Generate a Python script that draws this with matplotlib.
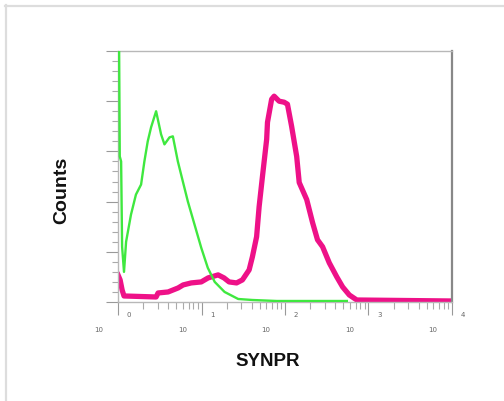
import matplotlib
matplotlib.use("Agg")
import matplotlib.pyplot as plt
from matplotlib.lines import Line2D
from matplotlib.ticker import LogLocator, MultipleLocator, NullFormatter

# ---- data ----
green_x = [1.00, 1.03, 1.05, 1.09, 1.12, 1.18, 1.25, 1.43, 1.64, 1.89, 2.07, 2.27,
           2.49, 2.86, 3.28, 3.60, 4.14, 4.54, 5.21, 5.98, 6.87, 8.26, 9.93, 11.9,
           14.4, 18.9, 27.5, 40.7, 80.0, 550.0]
green_y = [260, 260, 145, 140, 55, 30, 60, 87, 107, 117, 140, 160,
           174, 190, 167, 157, 164, 165, 140, 120, 100, 77, 54, 34,
           20, 10, 3, 2, 1, 1]

pink_x = [1.00, 1.06, 1.12, 1.18, 2.86, 3.02, 3.98, 5.25, 6.03, 7.53, 9.93, 12.0,
          15.8, 18.6, 21.4, 26.3, 30.9, 37.2, 40.7, 45.7, 49.0, 53.7, 60.3, 61.7,
          69.2, 74.1, 85.1, 97.7, 107, 120, 138, 148, 182, 214, 245, 282, 339,
          417, 490, 589, 724, 10000]
pink_y = [27, 22, 12, 6, 5, 9, 10, 14, 17, 19, 20, 24,
          27, 24, 20, 19, 22, 32, 45, 65, 95, 125, 162, 179,
          202, 205, 200, 199, 197, 175, 145, 119, 102, 79, 62, 55, 39,
          25, 15, 7, 2, 1]

decades = [0, 1, 2, 3, 4]
x_label = "SYNPR"
y_label = "Counts"

# ---- figure ----
fig = plt.figure(figsize=(5.04, 4.01), dpi=100)
fig.patch.set_facecolor("white")

# light frame lines (left and top)
fig.add_artist(Line2D([6 / 504, 6 / 504], [0, 1 - 5 / 401], color="#dddddd", lw=1.6,
                      transform=fig.transFigure))
fig.add_artist(Line2D([5 / 504, 1], [1 - 6 / 401, 1 - 6 / 401], color="#dddddd", lw=1.6,
                      transform=fig.transFigure))

ax = fig.add_axes([118 / 504, 99 / 401, (452 - 118) / 504, (302 - 51) / 401])
ax.plot(pink_x, pink_y, color="#ee1188", lw=3.8, solid_joinstyle="round", zorder=2)
ax.plot(green_x, green_y, color="#3fe83f", lw=1.7, zorder=3)

ax.set_xscale("log")
ax.set_xlim(1, 10000)
ax.set_ylim(0, 250)

for side in ["left", "top", "bottom"]:
    ax.spines[side].set_color("#b8b8b8")
    ax.spines[side].set_linewidth(1.0)
ax.spines["right"].set_color("#888888")
ax.spines["right"].set_linewidth(1.6)

ax.xaxis.set_major_locator(LogLocator(base=10, numticks=10))
ax.xaxis.set_minor_locator(LogLocator(base=10, subs=range(2, 10), numticks=20))
ax.xaxis.set_major_formatter(NullFormatter())
ax.xaxis.set_minor_formatter(NullFormatter())
ax.yaxis.set_major_locator(MultipleLocator(50))
ax.yaxis.set_minor_locator(MultipleLocator(10))
ax.yaxis.set_major_formatter(NullFormatter())

ax.tick_params(axis="x", which="major", direction="out", length=9, width=0.8,
               color="#999999")
ax.tick_params(axis="x", which="minor", direction="out", length=5, width=0.8,
               color="#aaaaaa")
ax.tick_params(axis="y", which="major", direction="out", length=9, width=0.8,
               color="#999999")
ax.tick_params(axis="y", which="minor", direction="out", length=4, width=0.8,
               color="#aaaaaa")

for d in decades:
    ax.annotate("10", xy=(10 ** d, 0), xycoords=("data", "axes fraction"),
                xytext=(-19, -28), textcoords="offset pixels", ha="center",
                va="center", fontsize=5, color="#666666")
    ax.annotate(str(d), xy=(10 ** d, 0), xycoords=("data", "axes fraction"),
                xytext=(11, -13), textcoords="offset pixels", ha="center",
                va="center", fontsize=5, color="#666666")

fig.text(268 / 504, 1 - 361 / 401, x_label, ha="center", va="center",
         fontsize=13.5, fontweight="bold", family="Liberation Sans", color="#111111")
fig.text(62 / 504, 1 - 190 / 401, y_label, ha="center", va="center", rotation=90,
         fontsize=14, fontweight="bold", family="Liberation Sans", color="#111111")

fig.savefig("out.png", dpi=100, facecolor="white")
